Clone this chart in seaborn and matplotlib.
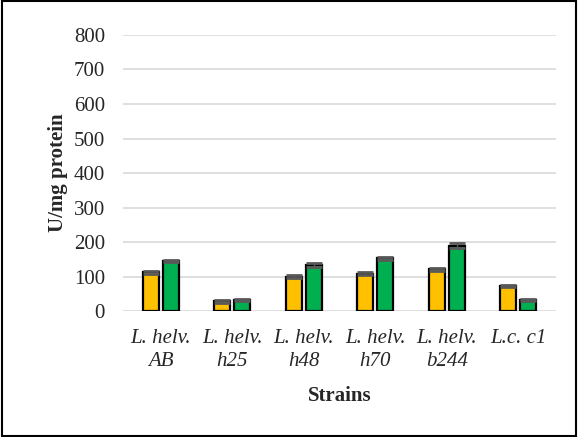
import pandas as pd
import seaborn as sns
import matplotlib.pyplot as plt
from matplotlib.patches import Rectangle

strains = ['L. helv.\nAB', 'L. helv.\nh25', 'L. helv.\nh48', 'L. helv.\nh70', 'L. helv.\nb244', 'L.c. c1']
serie_a = [112, 28, 100, 109, 121, 74]
serie_b = [145, 32, 134, 153, 190, 33]
err_a = [4, 3, 4, 3, 4, 3]
err_b = [4, 3, 5, 5, 6, 3]

df = pd.DataFrame({
    'Strain': strains * 2,
    'Valor': serie_a + serie_b,
    'Serie': ['A'] * len(strains) + ['B'] * len(strains),
})
errores = err_a + err_b

sns.set_style('white')
plt.rcParams['font.family'] = ['Liberation Serif', 'DejaVu Serif']

fig = plt.figure(figsize=(5.78, 4.37), dpi=100)
ax = fig.add_axes([0.213, 0.288, 0.749, 0.632])

sns.barplot(data=df, x='Strain', y='Valor', hue='Serie', palette=['#FFC000', '#00B050'],
            saturation=1, width=0.56, gap=0.2, errorbar=None, edgecolor='black',
            linewidth=1.6, legend=False, ax=ax, zorder=3)

for p, e in zip(ax.patches, errores):
    xc = p.get_x() + p.get_width() / 2
    ax.errorbar(xc, p.get_height(), yerr=e, color='#595959', capsize=5.5,
                capthick=2, elinewidth=1, zorder=4)

ax.set_ylim(0, 800)
ax.set_yticks(range(0, 801, 100))
ax.yaxis.grid(True, color='#D9D9D9', linewidth=1.2, zorder=0)
ax.set_axisbelow(True)
for s in ax.spines.values():
    s.set_visible(False)
ax.tick_params(axis='both', length=0, labelsize=15)
ax.tick_params(axis='y', pad=13)
ax.tick_params(axis='x', pad=13)
for lbl in ax.get_xticklabels():
    lbl.set_style('italic')
    lbl.set_linespacing(1.28)
ax.set_xlabel('Strains', fontsize=15, fontweight='bold', labelpad=11)
ax.set_ylabel('U/mg protein', fontsize=15, fontweight='bold', labelpad=4)

fig.add_artist(Rectangle((0.003, 0.003), 0.994, 0.994, transform=fig.transFigure,
                         fill=False, edgecolor='black', linewidth=1.5))

plt.savefig('out.png', dpi=100)
